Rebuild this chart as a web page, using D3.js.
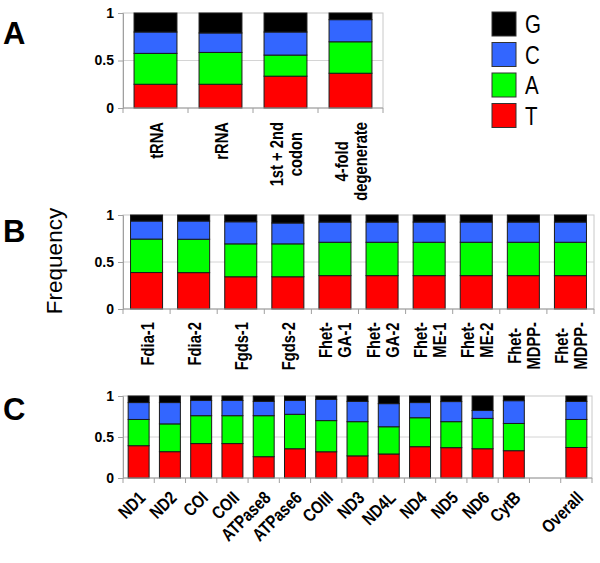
<!DOCTYPE html>
<html><head><meta charset="utf-8">
<script src="https://cdn.jsdelivr.net/npm/d3@7"></script>
<style>body{margin:0;background:#fff;} text{font-family:"Liberation Sans",Arial,sans-serif;}</style>
</head><body>
<svg id="chart" width="600" height="563"></svg>
<script>
// ---- DATA ----
const bases = ["T", "A", "C", "G"]; // bottom to top
const baseColors = ["#ff0000", "#00ff00", "#3366ff", "#000000"];
const legendOrder = ["G", "C", "A", "T"];
const yTicks = [0, 0.5, 1];
const yTickLabels = ["0", "0.5", "1"];

const catsA = ["tRNA", "rRNA", "1st + 2nd\ncodon", "4-fold\ndegenerate"];
const aT = [0.250, 0.250, 0.335, 0.366];
const aA = [0.325, 0.335, 0.222, 0.331];
const aC = [0.225, 0.205, 0.243, 0.233];
const aG = [0.200, 0.210, 0.200, 0.070];

const catsB = ["Fdia-1", "Fdia-2", "Fgds-1", "Fgds-2", "Fhet-\nGA-1", "Fhet-\nGA-2", "Fhet-\nME-1", "Fhet-\nME-2", "Fhet-\nMDPP-", "Fhet-\nMDPP-"];
const bT = [0.388, 0.387, 0.343, 0.343, 0.355, 0.355, 0.355, 0.355, 0.355, 0.355];
const bA = [0.356, 0.355, 0.350, 0.350, 0.355, 0.355, 0.355, 0.355, 0.355, 0.355];
const bC = [0.192, 0.194, 0.235, 0.222, 0.215, 0.215, 0.215, 0.215, 0.215, 0.215];
const bG = [0.064, 0.064, 0.072, 0.085, 0.075, 0.075, 0.075, 0.075, 0.075, 0.075];

const catsC = ["ND1", "ND2", "COI", "COII", "ATPase8", "ATPase6", "COIII", "ND3", "ND4L", "ND4", "ND5", "ND6", "CytB", "", "Overall"];
const cT = [0.394, 0.321, 0.420, 0.420, 0.260, 0.357, 0.320, 0.270, 0.293, 0.382, 0.370, 0.357, 0.333, 0, 0.372];
const cA = [0.320, 0.339, 0.340, 0.340, 0.500, 0.420, 0.380, 0.417, 0.332, 0.353, 0.317, 0.370, 0.332, 0, 0.342];
const cC = [0.206, 0.260, 0.185, 0.185, 0.175, 0.168, 0.258, 0.248, 0.282, 0.185, 0.245, 0.096, 0.278, 0, 0.220];
const cG = [0.080, 0.080, 0.055, 0.055, 0.065, 0.055, 0.042, 0.065, 0.093, 0.080, 0.068, 0.177, 0.057, 0, 0.066];

// ---- DRAW ----
const svg = d3.select("#chart");
const font = '"Liberation Sans", Arial, sans-serif';
const NARROW = 0.82;

function rows(cats, T, A, C, G) {
  return cats.map((c, i) => ({ cat: c, idx: i, T: T[i], A: A[i], C: C[i], G: G[i] }));
}

function drawPanel(cfg) {
  const data = rows(cfg.cats, cfg.T, cfg.A, cfg.C, cfg.G);
  const x = d3.scaleBand().domain(data.map(d => d.idx)).range([cfg.left, cfg.right]).paddingInner(cfg.pad).paddingOuter(cfg.pad / 2);
  const xb = d3.scaleBand().domain(data.map(d => d.idx)).range([cfg.left, cfg.right]);
  const y = d3.scaleLinear().domain([0, 1]).range([cfg.bottom, cfg.top]);
  const g = svg.append("g");

  g.append("rect").attr("x", cfg.left).attr("y", cfg.top).attr("width", cfg.right - cfg.left).attr("height", cfg.bottom - cfg.top)
    .attr("fill", "none").attr("stroke", "#c8c8c8").attr("stroke-width", 1);
  g.append("line").attr("x1", cfg.left).attr("x2", cfg.right).attr("y1", y(0.5)).attr("y2", y(0.5)).attr("stroke", "#d4d4d4");

  const stack = d3.stack().keys(bases)(data);
  stack.forEach((layer, li) => {
    g.append("g").selectAll("rect").data(layer.filter(d => d[1] > d[0])).join("rect")
      .attr("x", d => x(d.data.idx)).attr("width", x.bandwidth())
      .attr("y", d => y(d[1])).attr("height", d => y(d[0]) - y(d[1]))
      .attr("fill", baseColors[li]).attr("stroke", "#1a1a1a").attr("stroke-width", 1);
  });

  const ya = d3.axisLeft(y).tickValues(yTicks).tickFormat((d, i) => yTickLabels[i]).tickSize(5).tickPadding(4);
  const yg = g.append("g").attr("transform", `translate(${cfg.left},0)`).call(ya);
  yg.select(".domain").attr("stroke", "#a0a0a0");
  yg.selectAll(".tick line").attr("stroke", "#a0a0a0");
  yg.selectAll(".tick text").attr("font-family", font).attr("font-size", 14).attr("font-weight", "bold").attr("fill", "#000");

  g.append("line").attr("x1", cfg.left).attr("x2", cfg.right).attr("y1", cfg.bottom).attr("y2", cfg.bottom).attr("stroke", "#a0a0a0");
  const bounds = data.map(d => xb(d.idx)).concat([cfg.right]);
  g.selectAll(".xt").data(bounds).join("line").attr("x1", d => d).attr("x2", d => d)
    .attr("y1", cfg.bottom).attr("y2", cfg.bottom + 5).attr("stroke", "#a0a0a0");

  const lg = g.append("g");
  if (cfg.clip) {
    const id = "clip" + cfg.name;
    svg.append("clipPath").attr("id", id).append("rect").attr("x", 0).attr("y", 0).attr("width", 600).attr("height", cfg.clip);
    lg.attr("clip-path", `url(#${id})`);
  }
  data.forEach(d => {
    if (!d.cat) return;
    const cx = xb(d.idx) + xb.bandwidth() / 2;
    const lines = d.cat.split("\n");
    if (cfg.rot === -90) {
      const ts = lines.map(ln => lg.append("text").text(ln).attr("font-family", font).attr("font-size", cfg.lfs).attr("font-weight", "bold")
        .attr("text-anchor", "middle"));
      const maxW = d3.max(ts, t => t.node().getComputedTextLength()) * NARROW;
      ts.forEach((t, i) => {
        const bx = cx + (i - (lines.length - 1) / 2) * cfg.lh + cfg.loff;
        t.attr("transform", `translate(${bx},${cfg.bottom + cfg.lgap + maxW / 2}) rotate(-90) scale(${NARROW},1)`);
      });
    } else {
      lg.append("text").text(d.cat).attr("font-family", font).attr("font-size", cfg.lfs).attr("font-weight", "bold")
        .attr("text-anchor", "end")
        .attr("transform", `translate(${cx + cfg.ldx},${cfg.bottom + cfg.lgap}) rotate(-45) scale(${NARROW},1)`);
    }
  });

  svg.append("text").text(cfg.name).attr("x", 3).attr("y", cfg.letterY).attr("font-family", font)
    .attr("font-size", 31).attr("font-weight", "bold");
}

drawPanel({ name: "A", cats: catsA, T: aT, A: aA, C: aC, G: aG, left: 123, right: 383, top: 13, bottom: 108, pad: 0.34, rot: -90, lfs: 18, lh: 19, loff: 7, lgap: 14, letterY: 44 });
drawPanel({ name: "B", cats: catsB, T: bT, A: bA, C: bC, G: bG, left: 123, right: 594, top: 215, bottom: 309, pad: 0.32, rot: -90, lfs: 18, lh: 19, loff: 7, lgap: 13, letterY: 242, clip: 371 });
drawPanel({ name: "C", cats: catsC, T: cT, A: cA, C: cC, G: cG, left: 123, right: 592, top: 396, bottom: 478, pad: 0.33, rot: -45, lfs: 18, ldx: 8, lgap: 21, letterY: 420 });

svg.append("text").text("Frequency").attr("font-family", font).attr("font-size", 22.5).attr("text-anchor", "middle")
  .attr("transform", "translate(62,261) rotate(-90)");

const leg = svg.append("g");
legendOrder.forEach((b, i) => {
  const ci = bases.indexOf(b);
  leg.append("rect").attr("x", 492).attr("y", 12 + i * 30.5).attr("width", 24).attr("height", 24)
    .attr("fill", baseColors[ci]).attr("stroke", "#333").attr("stroke-width", 1);
  leg.append("text").text(b).attr("dy", "0.36em")
    .attr("transform", `translate(525,${24 + i * 30.5}) scale(${NARROW},1)`)
    .attr("font-family", font).attr("font-size", 25);
});
</script>
</body></html>
